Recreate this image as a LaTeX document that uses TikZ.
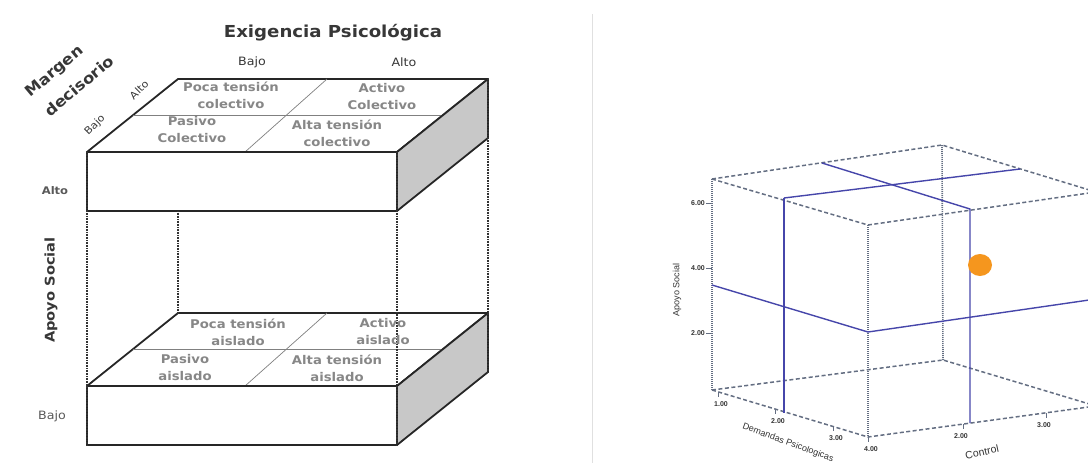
\documentclass[tikz,border=0pt]{standalone}
\usepackage{fontspec}
\newfontfamily\lf{DejaVu Sans}[FakeStretch=1.1]
\newfontfamily\pf{Liberation Sans}
\definecolor{sidegray}{RGB}{200,200,200}
\definecolor{cellgray}{RGB}{135,135,135}
\definecolor{titlegray}{RGB}{55,55,55}
\definecolor{plotedge}{RGB}{100,110,130}
\definecolor{plotblue}{RGB}{70,70,170}
\definecolor{plotdot}{RGB}{245,150,30}
\begin{document}
\begin{tikzpicture}[x=1pt,y=-1pt,
  edge/.style={draw=black!85,line width=1.8pt,line join=round},
  sideface/.style={edge,fill=sidegray},
  divider/.style={draw=black!50,line width=0.7pt},
  hidden/.style={draw=black!80,line width=2pt,dash pattern=on 0.8pt off 0.8pt},
  cell/.style={font=\lf\bfseries\fontsize{12}{17}\selectfont,text=cellgray,align=center,inner sep=0pt},
  head/.style={font=\lf\fontsize{11.5}{13}\selectfont,text=titlegray,inner sep=0pt},
  axistitle/.style={font=\lf\bfseries\fontsize{15}{16}\selectfont,text=titlegray,align=center,inner sep=0pt},
  pedge/.style={draw=plotedge,line width=1.5pt,dash pattern=on 4pt off 2.5pt},
  pvert/.style={draw=plotedge,line width=1.6pt,dash pattern=on 1pt off 1pt},
  pline/.style={draw=plotblue,line width=1.4pt},
  ptick/.style={font=\pf\bfseries\fontsize{7}{8}\selectfont,text=black!80,inner sep=0pt},
  ptitle/.style={font=\pf\fontsize{9}{10}\selectfont,text=black!80,inner sep=0pt}
]
\useasboundingbox (0,0) rectangle (1088,467);

% ---------- left: two slabs of the demand-control-support model ----------
\foreach \y/\n in {152/up,386/low}{
  % top face
  \draw[edge,fill=white] (87,\y) -- (397,\y) -- (488,\y-73) -- (178,\y-73) -- cycle;
  \draw[divider] (132.5,\y-36.5) -- (442.5,\y-36.5);
  \draw[divider] (327,\y-73) -- (245,\y);
  % front face
  \draw[edge,fill=white] (87,\y) rectangle (397,\y+59);
  % shaded side face
  \draw[sideface] (397,\y) -- (488,\y-73) -- (488,\y-14) -- (397,\y+59) -- cycle;
}

% hidden / connecting edges
\draw[hidden] (87,152) -- (87,445);
\draw[hidden] (397,152) -- (397,445);
\draw[hidden] (178,211) -- (178,314);
\draw[hidden] (488,79) -- (488,372);

% cell labels, upper slab
\node[cell] (pc) at (231,95) {Poca tensión\\colectivo};
\node[cell] (ac) at (382,97) {Activo\\Colectivo};
\node[cell] (pac) at (192,130) {Pasivo\\Colectivo};
\node[cell] (atc) at (337,133) {Alta tensión\\colectivo};
% cell labels, lower slab
\node[cell] (pa) at (238,332) {Poca tensión\\aislado};
\node[cell] (aa) at (383,332) {Activo\\aislado};
\node[cell] (paa) at (185,368) {Pasivo\\aislado};
\node[cell] (ata) at (337,368) {Alta tensión\\aislado};

% axis titles and levels
\node[axistitle,font=\lf\bfseries\fontsize{16.5}{18}\selectfont] (ep) at (333,33) {Exigencia Psicológica};
\node[head] (eb) at (252,62) {Bajo};
\node[head] (ea) at (404,62) {Alto};
\node[axistitle,rotate=40] (mg) at (55,72) {Margen};
\node[axistitle,rotate=40] (dc) at (79,86) {decisorio};
\node[head,rotate=45,font=\lf\fontsize{10}{11}\selectfont] (ma) at (139,90) {Alto};
\node[head,rotate=45,font=\lf\fontsize{10}{11}\selectfont] (mb) at (95,125) {Bajo};
\node[head,font=\lf\bfseries\fontsize{10.5}{12}\selectfont,text=black!65] (sa) at (55,191) {Alto};
\node[head,font=\lf\fontsize{11.5}{13}\selectfont,text=black!65] (sb) at (52,416) {Bajo};
\node[axistitle,rotate=90,font=\lf\bfseries\fontsize{13.3}{15}\selectfont] (as) at (51,290) {Apoyo Social};

% separator between the two panels
\draw[black!12,line width=0.8pt] (592,14) -- (592,463);

% ---------- right: 3-D plot box ----------
\begin{scope}
\clip (0,0) rectangle (1088,467);
\coordinate (A) at (712,179); \coordinate (B) at (942,145);
\coordinate (C) at (868,225); \coordinate (D) at (1096,192);
\coordinate (A2) at (712,390); \coordinate (B2) at (943,360);
\coordinate (C2) at (868,437); \coordinate (D2) at (1096,406);
\draw[pvert] (B) -- (B2);
\draw[pedge] (A2) -- (B2) -- (D2);
\draw[pedge] (A) -- (B) -- (D);
\draw[pedge] (A) -- (C) -- (D);
\draw[pedge] (A2) -- (C2) -- (D2);
\draw[pvert] (A) -- (A2);
\draw[pvert] (C) -- (C2);
% cutting planes
\draw[pline] (784,198) -- (784,413);
\draw[pline] (784,198) -- (1020,169);
\draw[pline] (822,163) -- (970,209) -- (970,423);
\draw[pline] (712,285) -- (868,332) -- (1096,299);
% data point
\fill[plotdot] (980,265) ellipse [x radius=12, y radius=11];
% ticks on the vertical axis
\foreach \ty/\tl in {203/6.00,268/4.00,333/2.00}{
  \draw[plotedge,line width=1pt] (712,\ty) -- (706,\ty);
  \node[ptick,anchor=east] at (705,\ty) {\tl};
}
% ticks on the demand axis
\foreach \tx/\ty/\tl in {718/392/1.00,775/409/2.00,833/426/3.00,868/437/4.00}{
  \draw[plotedge,line width=1pt] (\tx,\ty) -- (\tx,\ty+5);
  \node[ptick] at (\tx+3,\ty+12) {\tl};
}
% ticks on the control axis
\foreach \tx/\ty/\tl in {963/424/2.00,1046/413/3.00}{
  \draw[plotedge,line width=1pt] (\tx,\ty) -- (\tx,\ty+5);
  \node[ptick] at (\tx-2,\ty+12) {\tl};
}
\end{scope}
\node[ptitle,rotate=90] (ast) at (677,290) {Apoyo Social};
\node[ptitle,rotate=-20] (dpt) at (788,443) {Demandas Psicologicas};
\node[ptitle,rotate=12,font=\pf\fontsize{10.5}{12}\selectfont] (ct) at (982,452) {Control};
\end{tikzpicture}
\end{document}
